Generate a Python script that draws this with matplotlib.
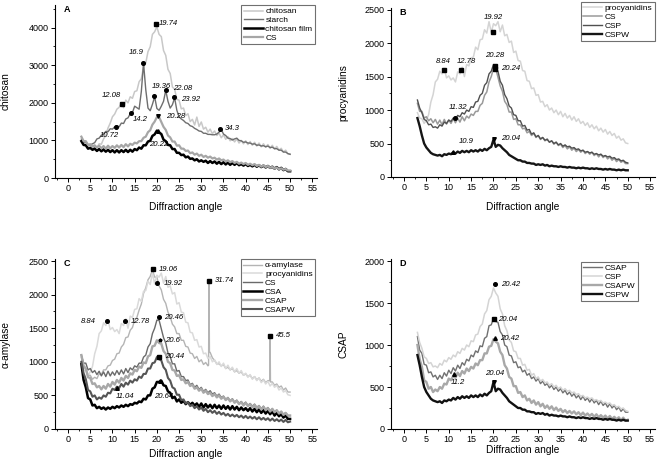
import numpy as np
import matplotlib
matplotlib.use("Agg")
import matplotlib.pyplot as plt
from matplotlib.ticker import MultipleLocator

plt.rcParams['font.family'] = ['Liberation Sans', 'DejaVu Sans']

FIGSIZE = (6.57, 4.66)
DPI = 100

# diffraction angle grid (2-theta, degrees), 3 .. 50 in 0.5 steps
ANGLE = np.arange(3.0, 50.01, 0.5)

# intensities, one value per grid angle
CHITOSAN = [1050, 930, 940, 840, 870, 780, 830, 800, 910, 900,
            1040, 1130, 1330, 1460, 1630, 1700, 1830, 1880, 1990, 1870,
            2070, 2000, 2160, 2120, 2300, 2320, 2560, 2640, 2960, 3060,
            3360, 3490, 3820, 3890, 4020, 3820, 3760, 3390, 3260, 2890,
            2780, 2420, 2360, 2090, 2070, 1840, 1860, 1660, 1710, 1500,
            1560, 1410, 1620, 1370, 1490, 1300, 1350, 1220, 1300, 1180,
            1250, 1130, 1190, 1070, 1150, 1030, 1100, 990, 1050, 960,
            1040, 930, 1000, 910, 990, 890, 970, 870, 950, 850,
            930, 830, 910, 820, 890, 790, 870, 770, 840, 740,
            790, 690, 740, 640, 640]
STARCH = [1010, 960, 950, 890, 880, 910, 940, 1040, 1060, 1140,
          1170, 1240, 1230, 1310, 1300, 1360, 1390, 1360, 1460, 1450,
          1570, 1600, 1710, 1740, 1910, 1870, 1830, 2300, 3050, 2350,
          1860, 1790, 1960, 2160, 1850, 1800, 1910, 2040, 2330, 2040,
          1860, 1950, 2130, 1800, 1630, 1570, 1530, 1470, 1450, 1390,
          1370, 1320, 1290, 1250, 1240, 1190, 1190, 1160, 1160, 1150,
          1150, 1170, 1220, 1290, 1170, 1130, 1060, 1050, 1010, 1040,
          1060, 1000, 990, 950, 960, 930, 930, 900, 910, 870,
          880, 850, 860, 830, 850, 810, 820, 780, 780, 740,
          740, 690, 690, 650, 630]
CHITOSAN_FILM = [980, 880, 870, 780, 800, 750, 780, 720, 770, 710,
                 760, 700, 750, 690, 740, 680, 740, 680, 740, 690,
                 750, 690, 750, 700, 770, 740, 810, 780, 870, 870,
                 970, 990, 1120, 1160, 1260, 1210, 1170, 1020, 980, 880,
                 870, 770, 770, 670, 670, 610, 620, 550, 570, 510,
                 520, 470, 500, 440, 470, 430, 460, 400, 450, 400,
                 440, 380, 430, 370, 420, 360, 410, 350, 400, 350,
                 400, 340, 370, 330, 370, 320, 350, 310, 350, 300,
                 340, 290, 330, 280, 320, 270, 300, 250, 290, 230,
                 270, 210, 240, 180, 180]
CS = [1100, 980, 980, 880, 900, 840, 870, 810, 860, 790,
      850, 780, 860, 790, 850, 800, 870, 810, 880, 820,
      900, 840, 910, 880, 940, 920, 980, 980, 1070, 1100,
      1220, 1270, 1420, 1500, 1620, 1620, 1490, 1360, 1280, 1130,
      1080, 970, 970, 860, 870, 780, 780, 720, 730, 660,
      680, 620, 650, 590, 620, 560, 590, 540, 570, 520,
      540, 490, 520, 470, 490, 440, 470, 420, 450, 400,
      430, 380, 410, 370, 400, 350, 380, 340, 370, 320,
      350, 300, 340, 290, 320, 270, 300, 250, 280, 230,
      260, 220, 240, 200, 200]
PROCYANIDINS = [960, 880, 870, 800, 850, 930, 1120, 1230, 1420, 1460,
                1580, 1540, 1620, 1480, 1510, 1450, 1480, 1420, 1570, 1540,
                1640, 1500, 1680, 1660, 1780, 1790, 1940, 1900, 2050, 2060,
                2200, 2150, 2320, 2160, 2290, 2260, 2320, 2170, 2270, 2110,
                2130, 2010, 2030, 1860, 1880, 1740, 1730, 1590, 1580, 1440,
                1430, 1320, 1330, 1220, 1230, 1120, 1130, 1050, 1080, 1000,
                1030, 960, 1000, 930, 980, 900, 950, 880, 920, 850,
                900, 830, 870, 800, 830, 770, 810, 740, 780, 720,
                760, 690, 730, 670, 710, 640, 680, 620, 650, 580,
                610, 550, 570, 510, 500]
CSP = [1150, 1030, 960, 860, 840, 780, 790, 740, 750, 730,
       780, 760, 820, 800, 850, 830, 880, 860, 920, 900,
       960, 940, 1000, 980, 1050, 1040, 1120, 1130, 1220, 1250,
       1370, 1410, 1540, 1580, 1680, 1620, 1580, 1430, 1370, 1230,
       1170, 1060, 1030, 930, 920, 840, 840, 760, 770, 700,
       710, 640, 660, 600, 620, 570, 590, 550, 560, 520,
       540, 500, 520, 480, 500, 460, 480, 450, 460, 430,
       440, 410, 420, 390, 400, 370, 380, 360, 370, 340,
       350, 330, 340, 310, 320, 300, 310, 280, 290, 260,
       270, 240, 250, 220, 210]
CSPW = [880, 760, 620, 500, 440, 400, 360, 340, 330, 320,
        330, 310, 340, 330, 350, 340, 370, 350, 380, 360,
        390, 370, 390, 370, 400, 380, 400, 380, 410, 390,
        420, 400, 430, 450, 560, 450, 480, 470, 430, 400,
        370, 330, 310, 290, 270, 250, 250, 230, 230, 210,
        210, 200, 200, 180, 190, 180, 190, 170, 180, 160,
        170, 160, 160, 150, 160, 150, 150, 140, 150, 140,
        140, 130, 140, 130, 140, 130, 130, 120, 130, 120,
        130, 120, 120, 110, 120, 110, 120, 110, 110, 100,
        110, 100, 110, 100, 100]
AMYLASE = [1070, 920, 900, 800, 800, 740, 770, 750, 820, 810,
           880, 880, 940, 950, 1020, 1040, 1120, 1130, 1220, 1260,
           1360, 1370, 1470, 1510, 1620, 1660, 1770, 1860, 2020, 2100,
           2220, 2270, 2370, 2260, 2260, 2130, 2070, 1930, 1870, 1740,
           1670, 1560, 1520, 1420, 1420, 1320, 1320, 1230, 1220, 1130,
           1120, 1050, 1080, 1000, 1030, 960, 990, 940, 1140, 1060,
           1020, 970, 970, 940, 960, 900, 920, 880, 900, 850,
           870, 830, 850, 800, 820, 780, 800, 750, 780, 730,
           760, 710, 740, 690, 720, 1380, 700, 650, 670, 620,
           640, 580, 610, 550, 550]
# narrow reflections of the amylase powder, off the grid
AMYLASE_SPIKE_ANGLE = [31.64, 31.74, 31.84, 45.42, 45.58]
AMYLASE_SPIKE = [950, 2200, 1150, 720, 700]
CSA = [970, 730, 620, 460, 440, 350, 360, 310, 330, 300,
       320, 290, 320, 300, 330, 310, 340, 320, 350, 330,
       360, 340, 370, 360, 390, 380, 410, 400, 450, 440,
       500, 500, 600, 620, 700, 700, 720, 650, 640, 560,
       540, 460, 480, 410, 440, 390, 420, 370, 400, 360,
       390, 350, 380, 330, 380, 320, 370, 320, 360, 310,
       360, 310, 350, 300, 350, 300, 340, 290, 340, 290,
       330, 280, 320, 280, 310, 270, 310, 260, 300, 250,
       290, 240, 280, 230, 270, 220, 260, 200, 240, 190,
       220, 170, 200, 150, 150]
CSAP = [1100, 940, 900, 770, 760, 670, 680, 620, 640, 590,
        640, 600, 670, 630, 700, 660, 730, 690, 760, 720,
        790, 760, 830, 810, 880, 860, 930, 910, 990, 980,
        1080, 1100, 1230, 1240, 1320, 1280, 1270, 1160, 1120, 1000,
        980, 880, 870, 790, 800, 730, 740, 680, 700, 640,
        660, 600, 620, 570, 600, 540, 570, 520, 540, 490,
        520, 470, 500, 450, 480, 430, 460, 410, 440, 390,
        420, 370, 400, 350, 390, 340, 370, 320, 360, 310,
        340, 290, 330, 280, 310, 260, 300, 250, 280, 230,
        260, 210, 240, 200, 200]
CSAPW = [1000, 830, 740, 580, 560, 480, 500, 440, 470, 450,
         500, 480, 540, 530, 600, 580, 630, 610, 670, 630,
         690, 660, 720, 690, 740, 720, 780, 760, 820, 820,
         900, 900, 980, 990, 1070, 1040, 1020, 920, 880, 760,
         720, 620, 600, 510, 510, 430, 440, 380, 400, 340,
         360, 310, 340, 290, 320, 270, 300, 250, 280, 240,
         270, 225, 255, 215, 240, 200, 225, 190, 215, 185,
         210, 175, 200, 165, 195, 160, 185, 155, 180, 145,
         175, 140, 165, 135, 160, 125, 155, 120, 145, 115,
         140, 105, 135, 100, 110]

# labelled peaks: angle, intensity at the marker
PEAK_A_ANGLE = [19.74, 16.9, 12.08, 19.36, 22.08, 23.92, 20.28, 14.2, 10.72, 34.3, 20.22]
PEAK_A_INT = [4100, 3060, 1960, 2170, 2350, 2150, 1650, 1730, 1360, 1300, 1260]
PEAK_B_ANGLE = [19.92, 8.84, 12.78, 20.28, 20.24, 11.32, 10.9, 20.04]
PEAK_B_INT = [2165, 1600, 1600, 1660, 1615, 880, 380, 570]
PEAK_C_ANGLE = [19.06, 19.92, 31.74, 45.5, 8.84, 12.78, 20.46, 20.6, 20.44, 11.04, 20.64]
PEAK_C_INT = [2375, 2170, 2205, 1385, 1607, 1607, 1662, 1324, 1076, 610, 720]
PEAK_D_ANGLE = [20.42, 20.04, 20.42, 11.2, 20.04]
PEAK_D_INT = [1722, 1309, 1083, 654, 563]


def amylase_series():
    x = np.concatenate([ANGLE, AMYLASE_SPIKE_ANGLE])
    y = np.concatenate([AMYLASE, AMYLASE_SPIKE])
    order = np.argsort(x)
    return x[order], y[order]


def style_axes(ax, ymax, ystep, letter, ylabel, xlab_y, ylab_x):
    ax.set_xlim(-3, 56)
    ax.set_ylim(0, ymax)
    ax.spines['top'].set_visible(False)
    ax.spines['right'].set_visible(False)
    for s in ('left', 'bottom'):
        ax.spines[s].set_linewidth(0.8)
    ax.xaxis.set_major_locator(MultipleLocator(5))
    ax.xaxis.set_minor_locator(MultipleLocator(2.5))
    ax.yaxis.set_major_locator(MultipleLocator(ystep))
    ax.yaxis.set_minor_locator(MultipleLocator(ystep / 2))
    ax.tick_params(which='major', direction='out', length=2.8, width=0.7,
                   labelsize=6.5, pad=1.5)
    ax.tick_params(which='minor', direction='out', length=1.5, width=0.6)
    ax.set_xlabel('Diffraction angle', fontsize=7.3)
    ax.set_ylabel(ylabel, fontsize=7.3)
    ax.xaxis.set_label_coords(0.5, xlab_y)
    ax.yaxis.set_label_coords(ylab_x, 0.5)
    ax.text(0.035, 0.975, letter, transform=ax.transAxes, fontsize=6.5,
            fontweight='bold', ha='left', va='center')


def draw_peaks(ax, angles, ints, markers, offsets):
    for a, v, m, (dx, dy, ha) in zip(angles, ints, markers, offsets):
        ax.plot([a], [v], marker=m, color='black', markersize=2.6, linestyle='none')
        ax.annotate(f'{a:g}', (a, v), xytext=(dx, dy), textcoords='offset pixels',
                    fontsize=5.6, style='italic', ha=ha, va='center')


def draw_legend(ax, anchor):
    leg = ax.legend(loc='upper right', bbox_to_anchor=anchor,
                    bbox_transform=ax.figure.transFigure, fontsize=6,
                    handlelength=2.3, handletextpad=0.3, labelspacing=0.12,
                    borderpad=0.3, borderaxespad=0, fancybox=False, framealpha=1)
    leg.get_frame().set_edgecolor('#707070')
    leg.get_frame().set_linewidth(0.8)


def build_viz():
    fig = plt.figure(figsize=FIGSIZE, dpi=DPI)
    ax_a = fig.add_axes([0.0833, 0.618, 0.3988, 0.3712])
    ax_b = fig.add_axes([0.5945, 0.6202, 0.4018, 0.3627])
    ax_c = fig.add_axes([0.0833, 0.0794, 0.3988, 0.3648])
    ax_d = fig.add_axes([0.5945, 0.0794, 0.4018, 0.3648])
    amy_x, amy_y = amylase_series()

    # A
    ax_a.plot(ANGLE, CHITOSAN, color='#c8c8c8', lw=1.1, label='chitosan')
    ax_a.plot(ANGLE, STARCH, color='#6e6e6e', lw=1.0, label='starch')
    ax_a.plot(ANGLE, CHITOSAN_FILM, color='black', lw=1.8, label='chitosan film')
    ax_a.plot(ANGLE, CS, color='#a6a6a6', lw=1.6, label='CS')
    style_axes(ax_a, 4600, 1000, 'A', 'chitosan', -0.139, -0.167)
    draw_peaks(ax_a, PEAK_A_ANGLE, PEAK_A_INT,
               ['s', 'o', 's', 'o', 'o', 'o', 'v', 'o', 'o', 'o', '^'],
               [(3, 0, 'left'), (-7, 10, 'center'), (-10, 9, 'center'),
                (7, 10, 'center'), (17, 1, 'center'), (16, -2, 'center'),
                (8, -1, 'left'), (2, -7, 'left'), (-6, -9, 'center'),
                (4, 1, 'left'), (1, -14, 'center')])
    draw_legend(ax_a, (0.4795, 0.989))

    # B
    ax_b.plot(ANGLE, PROCYANIDINS, color='#d4d4d4', lw=1.1, label='procyanidins')
    ax_b.plot(ANGLE, CS, color='#9a9a9a', lw=1.1, label='CS')
    ax_b.plot(ANGLE, CSP, color='#505050', lw=1.0, label='CSP')
    ax_b.plot(ANGLE, CSPW, color='#151515', lw=1.7, label='CSPW')
    style_axes(ax_b, 2525, 500, 'B', 'procyanidins', -0.148, -0.158)
    draw_peaks(ax_b, PEAK_B_ANGLE, PEAK_B_INT,
               ['s', 's', 's', 's', 's', 'o', '^', 'v'],
               [(0, 15, 'center'), (0, 8, 'center'), (5, 8, 'center'),
                (0, 10, 'center'), (6, 0, 'left'), (3, 11, 'center'),
                (13, 10, 'center'), (7, 0, 'left')])
    draw_legend(ax_b, (0.997, 0.996))

    # C
    ax_c.plot(amy_x, amy_y, color='#b4b4b4', lw=1.0, label='\u03b1-amylase')
    ax_c.plot(ANGLE, PROCYANIDINS, color='#dadada', lw=1.1, label='procyanidins')
    ax_c.plot(ANGLE, CS, color='#6a6a6a', lw=1.0, label='CS')
    ax_c.plot(ANGLE, CSA, color='black', lw=1.8, label='CSA')
    ax_c.plot(ANGLE, CSAP, color='#a8a8a8', lw=1.7, label='CSAP')
    ax_c.plot(ANGLE, CSAPW, color='#555555', lw=1.5, label='CSAPW')
    style_axes(ax_c, 2530, 500, 'C', '\u03b1-amylase', -0.118, -0.167)
    draw_peaks(ax_c, PEAK_C_ANGLE, PEAK_C_INT,
               ['s', 'o', 's', 's', 'o', 'o', 'o', '*', 's', '^', '^'],
               [(6, 0, 'left'), (7, 0, 'left'), (6, 0, 'left'), (6, 0, 'left'),
                (-19, 0, 'center'), (6, 0, 'left'), (5, 0, 'left'), (6, 0, 'left'),
                (6, 0, 'left'), (8, -8, 'center'), (4, -16, 'center')])
    draw_legend(ax_c, (0.4795, 0.444))

    # D
    ax_d.plot(ANGLE, CSAP, color='#707070', lw=1.0, label='CSAP')
    ax_d.plot(ANGLE, CSP, color='#d4d4d4', lw=1.1, label='CSP')
    ax_d.plot(ANGLE, CSAPW, color='#a8a8a8', lw=1.7, label='CSAPW')
    ax_d.plot(ANGLE, CSPW, color='#111111', lw=1.7, label='CSPW')
    style_axes(ax_d, 2024, 500, 'D', 'CSAP', -0.092, -0.16)
    draw_peaks(ax_d, PEAK_D_ANGLE, PEAK_D_INT,
               ['o', 's', '^', '^', 'v'],
               [(6, 0, 'left'), (4, 0, 'left'), (5, 0, 'left'),
                (4, -8, 'center'), (1, 8, 'center')])
    draw_legend(ax_d, (0.971, 0.438))

    fig.savefig('out.png', dpi=DPI)


build_viz()
